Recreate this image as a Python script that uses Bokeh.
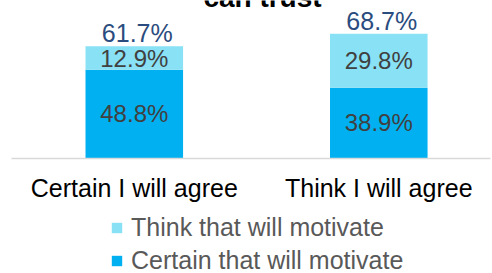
from bokeh.plotting import figure
from bokeh.models import Range1d, FixedTicker, Legend, LegendItem, ColumnDataSource, Label
from bokeh.core.properties import value
from bokeh.embed import file_html
from bokeh.resources import INLINE

title_text = "can trust"
categories = ["Certain I will agree", "Think I will agree"]
certain = [48.8, 38.9]
think = [12.9, 29.8]
series_names = ["Certain that will motivate", "Think that will motivate"]
colors = ["#00B0F0", "#89E1F5"]

FONT = "Liberation Sans"

xs = [i + 0.5 for i in range(len(categories))]
totals = [round(a + b, 1) for a, b in zip(certain, think)]
src = ColumnDataSource(dict(
    x=xs, certain=certain, think=think,
    mid_c=[a / 2 for a in certain],
    mid_t=[a + b / 2 for a, b in zip(certain, think)],
    total=totals,
    lab_c=[f"{v:.1f}%" for v in certain],
    lab_t=[f"{v:.1f}%" for v in think],
    lab_tot=[f"{v:.1f}%" for v in totals],
))

W, H = 492, 273
p = figure(width=W, height=H, output_backend="svg", toolbar_location=None,
           x_range=Range1d(-0.0472, 1.9651), y_range=Range1d(-63.6, 86.98),
           min_border=0)
p.outline_line_color = None
p.grid.visible = False
p.yaxis.visible = False
p.background_fill_color = "white"

rs = p.vbar_stack(["certain", "think"], x="x", width=0.399, source=src,
                  color=colors, line_color=None)

p.text(x="x", y="mid_c", text="lab_c", source=src, text_align="center",
       text_baseline="middle", text_font=value(FONT), text_font_size="24px",
       text_color="#404040")
p.text(x="x", y="mid_t", text="lab_t", source=src, text_align="center",
       text_baseline="middle", text_font=value(FONT), text_font_size="24px",
       text_color="#404040")
p.text(x="x", y="total", text="lab_tot", source=src, text_align="center",
       text_baseline="alphabetic", x_offset=3, y_offset=-13, text_font=value(FONT),
       text_font_size="25px", text_color="#2B4C7E")

# title, mostly above the visible area (as in the reference)
p.add_layout(Label(x=262, y=H + 3, x_units="screen", y_units="screen", text=title_text,
                   text_align="center", text_baseline="alphabetic", text_font=FONT,
                   text_font_size="28px", text_font_style="bold", text_color="#000000"))

ax = p.xaxis[0]
ax.fixed_location = 0
ax.bounds = (-0.0022, 1.9569)
ax.ticker = FixedTicker(ticks=xs)
ax.major_label_overrides = {x: c for x, c in zip(xs, categories)}
ax.major_tick_line_color = None
ax.minor_tick_line_color = None
ax.major_tick_out = 0
ax.major_tick_in = 0
ax.axis_line_color = "#D9D9D9"
ax.axis_line_width = 1.5
ax.major_label_standoff = 16
ax.major_label_text_font = FONT
ax.major_label_text_font_size = "25px"
ax.major_label_text_color = "#000000"

legend = Legend(items=[LegendItem(label=series_names[1], renderers=[rs[1]]),
                       LegendItem(label=series_names[0], renderers=[rs[0]])],
                location=(110, -2), orientation="vertical")
legend.padding = 0
legend.margin = 0
legend.border_line_color = None
legend.background_fill_alpha = 0
legend.glyph_width = 13
legend.glyph_height = 13
legend.label_standoff = 8
legend.spacing = 4
legend.label_text_font = FONT
legend.label_text_font_size = "25px"
legend.label_text_color = "#595959"
p.add_layout(legend, "center")

open("out.html", "w").write(file_html(p, INLINE))
